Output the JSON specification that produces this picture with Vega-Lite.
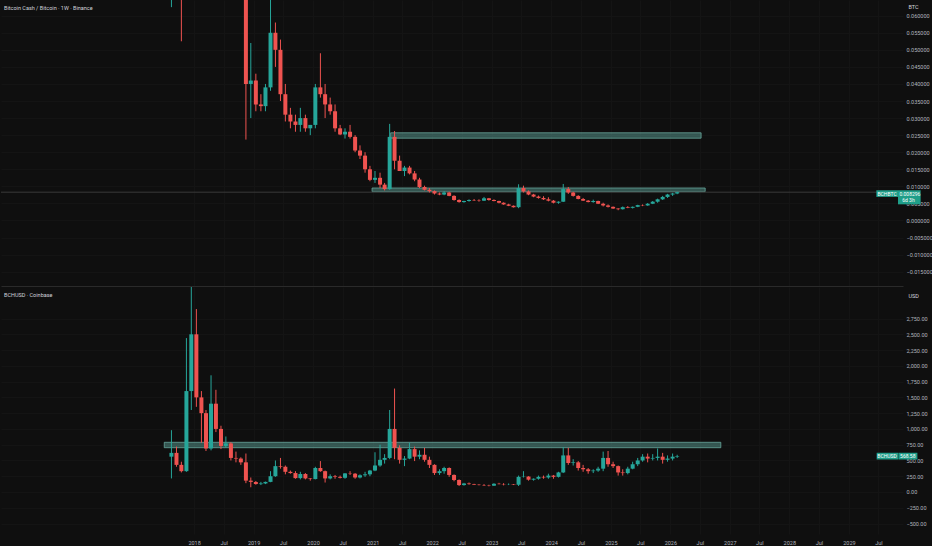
{
"$schema": "https://vega.github.io/schema/vega-lite/v6.json",
"background": "#0f0f0f",
"padding": 0,
"spacing": 1,
"config": {"view": {"stroke": null}, "font": "Roboto",
  "axis": {"labelFont": "Roboto", "titleFont": "Roboto", "labelOverlap": false, "labelFlush": false, "labelBound": false, "ticks": false, "domain": false, "grid": true, "gridColor": "#141414", "labelFontSize": 5.5, "labelColor": "#b2b5be", "titleFontSize": 5.5, "titleFontWeight": "normal", "titleColor": "#d1d4dc"},
  "axisY": {"labelPadding": 3, "labelBaseline": "middle"},
  "axisX": {"labelPadding": 6},
  "title": {"font": "Roboto"}},
"datasets": {
"btc": [
{"d":"2017-08-15","o":0.12,"h":0.22,"l":0.0625,"c":0.13},
{"d":"2017-09-15","o":0.13,"h":0.17,"l":0.09,"c":0.11},
{"d":"2017-10-15","o":0.11,"h":0.12,"l":0.0525,"c":0.09},
{"d":"2017-11-15","o":0.09,"h":0.38,"l":0.07,"c":0.16},
{"d":"2017-12-15","o":0.16,"h":0.26,"l":0.13,"c":0.18},
{"d":"2018-01-15","o":0.18,"h":0.2,"l":0.14,"c":0.15},
{"d":"2018-02-15","o":0.15,"h":0.16,"l":0.11,"c":0.12},
{"d":"2018-03-15","o":0.12,"h":0.13,"l":0.09,"c":0.1},
{"d":"2018-04-15","o":0.1,"h":0.15,"l":0.09,"c":0.14},
{"d":"2018-05-15","o":0.14,"h":0.18,"l":0.13,"c":0.135},
{"d":"2018-06-15","o":0.135,"h":0.14,"l":0.11,"c":0.115},
{"d":"2018-07-15","o":0.115,"h":0.12,"l":0.095,"c":0.1},
{"d":"2018-08-15","o":0.1,"h":0.1,"l":0.075,"c":0.08},
{"d":"2018-09-15","o":0.08,"h":0.09,"l":0.07,"c":0.078},
{"d":"2018-10-15","o":0.078,"h":0.084,"l":0.07,"c":0.08},
{"d":"2018-11-15","o":0.08,"h":0.09,"l":0.0237,"c":0.04},
{"d":"2018-12-15","o":0.04,"h":0.052,"l":0.03,"c":0.041},
{"d":"2019-01-15","o":0.041,"h":0.043,"l":0.032,"c":0.034},
{"d":"2019-02-15","o":0.034,"h":0.037,"l":0.032,"c":0.0335},
{"d":"2019-03-15","o":0.0335,"h":0.04,"l":0.032,"c":0.039},
{"d":"2019-04-15","o":0.039,"h":0.066,"l":0.038,"c":0.055},
{"d":"2019-05-15","o":0.055,"h":0.058,"l":0.045,"c":0.05},
{"d":"2019-06-15","o":0.05,"h":0.053,"l":0.035,"c":0.037},
{"d":"2019-07-15","o":0.037,"h":0.04,"l":0.029,"c":0.031},
{"d":"2019-08-15","o":0.031,"h":0.033,"l":0.027,"c":0.029},
{"d":"2019-09-15","o":0.029,"h":0.031,"l":0.026,"c":0.028},
{"d":"2019-10-15","o":0.028,"h":0.033,"l":0.026,"c":0.03},
{"d":"2019-11-15","o":0.03,"h":0.031,"l":0.026,"c":0.027},
{"d":"2019-12-15","o":0.027,"h":0.028,"l":0.025,"c":0.028},
{"d":"2020-01-15","o":0.028,"h":0.04,"l":0.027,"c":0.039},
{"d":"2020-02-15","o":0.039,"h":0.049,"l":0.036,"c":0.037},
{"d":"2020-03-15","o":0.037,"h":0.04,"l":0.03,"c":0.034},
{"d":"2020-04-15","o":0.034,"h":0.036,"l":0.031,"c":0.032},
{"d":"2020-05-15","o":0.032,"h":0.034,"l":0.026,"c":0.027},
{"d":"2020-06-15","o":0.027,"h":0.028,"l":0.025,"c":0.0252},
{"d":"2020-07-15","o":0.0252,"h":0.027,"l":0.024,"c":0.026},
{"d":"2020-08-15","o":0.026,"h":0.028,"l":0.024,"c":0.0245},
{"d":"2020-09-15","o":0.0245,"h":0.025,"l":0.02,"c":0.0205},
{"d":"2020-10-15","o":0.0205,"h":0.022,"l":0.018,"c":0.019},
{"d":"2020-11-15","o":0.019,"h":0.02,"l":0.014,"c":0.015},
{"d":"2020-12-15","o":0.015,"h":0.016,"l":0.0115,"c":0.0119},
{"d":"2021-01-15","o":0.0119,"h":0.0145,"l":0.011,"c":0.0125},
{"d":"2021-02-15","o":0.0125,"h":0.014,"l":0.0095,"c":0.0105},
{"d":"2021-03-15","o":0.0105,"h":0.011,"l":0.0088,"c":0.0092},
{"d":"2021-04-15","o":0.0092,"h":0.0283,"l":0.009,"c":0.0245},
{"d":"2021-05-15","o":0.0245,"h":0.0262,"l":0.015,"c":0.0175},
{"d":"2021-06-15","o":0.0175,"h":0.019,"l":0.0145,"c":0.0145},
{"d":"2021-07-15","o":0.0145,"h":0.016,"l":0.013,"c":0.0155},
{"d":"2021-08-15","o":0.0155,"h":0.016,"l":0.0135,"c":0.0138},
{"d":"2021-09-15","o":0.0138,"h":0.0145,"l":0.0115,"c":0.012},
{"d":"2021-10-15","o":0.012,"h":0.0125,"l":0.0095,"c":0.0098},
{"d":"2021-11-15","o":0.0098,"h":0.0102,"l":0.0088,"c":0.009},
{"d":"2021-12-15","o":0.009,"h":0.0095,"l":0.0082,"c":0.0086},
{"d":"2022-01-15","o":0.0086,"h":0.0088,"l":0.0076,"c":0.0079},
{"d":"2022-02-15","o":0.0079,"h":0.0082,"l":0.0074,"c":0.0076},
{"d":"2022-03-15","o":0.0076,"h":0.0086,"l":0.0074,"c":0.0082},
{"d":"2022-04-15","o":0.0082,"h":0.0084,"l":0.0071,"c":0.0072},
{"d":"2022-05-15","o":0.0072,"h":0.0074,"l":0.0058,"c":0.006},
{"d":"2022-06-15","o":0.006,"h":0.0062,"l":0.0052,"c":0.0054},
{"d":"2022-07-15","o":0.0054,"h":0.0058,"l":0.0052,"c":0.0057},
{"d":"2022-08-15","o":0.0057,"h":0.0062,"l":0.0055,"c":0.006},
{"d":"2022-09-15","o":0.006,"h":0.0063,"l":0.0057,"c":0.0059},
{"d":"2022-10-15","o":0.0059,"h":0.0062,"l":0.0055,"c":0.0058},
{"d":"2022-11-15","o":0.0058,"h":0.0069,"l":0.0057,"c":0.0065},
{"d":"2022-12-15","o":0.0065,"h":0.0066,"l":0.0058,"c":0.006},
{"d":"2023-01-15","o":0.006,"h":0.0062,"l":0.0056,"c":0.0057},
{"d":"2023-02-15","o":0.0057,"h":0.0058,"l":0.005,"c":0.0052},
{"d":"2023-03-15","o":0.0052,"h":0.0053,"l":0.0046,"c":0.0047},
{"d":"2023-04-15","o":0.0047,"h":0.0049,"l":0.0042,"c":0.0043},
{"d":"2023-05-15","o":0.0043,"h":0.0044,"l":0.0038,"c":0.0039},
{"d":"2023-06-15","o":0.0039,"h":0.0106,"l":0.0036,"c":0.0095},
{"d":"2023-07-15","o":0.0095,"h":0.0102,"l":0.0082,"c":0.0085},
{"d":"2023-08-15","o":0.0085,"h":0.0088,"l":0.0074,"c":0.0076},
{"d":"2023-09-15","o":0.0076,"h":0.0078,"l":0.0068,"c":0.007},
{"d":"2023-10-15","o":0.007,"h":0.0073,"l":0.0064,"c":0.0066},
{"d":"2023-11-15","o":0.0066,"h":0.0071,"l":0.006,"c":0.0062},
{"d":"2023-12-15","o":0.0062,"h":0.0068,"l":0.0056,"c":0.0058},
{"d":"2024-01-15","o":0.0058,"h":0.006,"l":0.005,"c":0.0052},
{"d":"2024-02-15","o":0.0052,"h":0.0056,"l":0.0049,"c":0.0055},
{"d":"2024-03-15","o":0.0055,"h":0.0107,"l":0.0054,"c":0.0092},
{"d":"2024-04-15","o":0.0092,"h":0.0098,"l":0.0078,"c":0.0082},
{"d":"2024-05-15","o":0.0082,"h":0.0084,"l":0.007,"c":0.0072},
{"d":"2024-06-15","o":0.0072,"h":0.0074,"l":0.0062,"c":0.0063},
{"d":"2024-07-15","o":0.0063,"h":0.0066,"l":0.0057,"c":0.0058},
{"d":"2024-08-15","o":0.0058,"h":0.006,"l":0.0053,"c":0.0054},
{"d":"2024-09-15","o":0.0054,"h":0.0061,"l":0.0052,"c":0.0057},
{"d":"2024-10-15","o":0.0057,"h":0.0058,"l":0.0048,"c":0.0049},
{"d":"2024-11-15","o":0.0049,"h":0.0052,"l":0.0041,"c":0.0044},
{"d":"2024-12-15","o":0.0044,"h":0.0047,"l":0.0038,"c":0.004},
{"d":"2025-01-15","o":0.004,"h":0.0041,"l":0.0034,"c":0.0035},
{"d":"2025-02-15","o":0.0035,"h":0.0036,"l":0.003,"c":0.0033},
{"d":"2025-03-15","o":0.0033,"h":0.0041,"l":0.0032,"c":0.0039},
{"d":"2025-04-15","o":0.0039,"h":0.0042,"l":0.0036,"c":0.0037},
{"d":"2025-05-15","o":0.0037,"h":0.0041,"l":0.0035,"c":0.004},
{"d":"2025-06-15","o":0.004,"h":0.0046,"l":0.0039,"c":0.0045},
{"d":"2025-07-15","o":0.0045,"h":0.0047,"l":0.0042,"c":0.0044},
{"d":"2025-08-15","o":0.0044,"h":0.0051,"l":0.0043,"c":0.0049},
{"d":"2025-09-15","o":0.0049,"h":0.0057,"l":0.0048,"c":0.0055},
{"d":"2025-10-15","o":0.0055,"h":0.0064,"l":0.0052,"c":0.0062},
{"d":"2025-11-15","o":0.0062,"h":0.0072,"l":0.006,"c":0.0069},
{"d":"2025-12-15","o":0.0069,"h":0.0078,"l":0.0066,"c":0.0076},
{"d":"2026-01-15","o":0.0076,"h":0.0081,"l":0.0072,"c":0.0079},
{"d":"2026-02-12","o":0.0079,"h":0.0084,"l":0.0077,"c":0.008296}
],
"usd": [
{"d":"2017-08-15","o":560,"h":980,"l":215,"c":620},
{"d":"2017-09-15","o":620,"h":720,"l":400,"c":430},
{"d":"2017-10-15","o":430,"h":480,"l":310,"c":330},
{"d":"2017-11-15","o":330,"h":2440,"l":320,"c":1600},
{"d":"2017-12-15","o":1600,"h":4300,"l":1300,"c":2500},
{"d":"2018-01-15","o":2500,"h":2900,"l":1350,"c":1500},
{"d":"2018-02-15","o":1500,"h":1600,"l":780,"c":1250},
{"d":"2018-03-15","o":1250,"h":1300,"l":650,"c":690},
{"d":"2018-04-15","o":690,"h":1850,"l":660,"c":1400},
{"d":"2018-05-15","o":1400,"h":1620,"l":950,"c":1000},
{"d":"2018-06-15","o":1000,"h":1050,"l":680,"c":730},
{"d":"2018-07-15","o":730,"h":880,"l":700,"c":770},
{"d":"2018-08-15","o":770,"h":790,"l":500,"c":540},
{"d":"2018-09-15","o":540,"h":640,"l":470,"c":530},
{"d":"2018-10-15","o":530,"h":550,"l":430,"c":470},
{"d":"2018-11-15","o":470,"h":610,"l":140,"c":180},
{"d":"2018-12-15","o":180,"h":230,"l":75,"c":160},
{"d":"2019-01-15","o":160,"h":175,"l":115,"c":125},
{"d":"2019-02-15","o":125,"h":160,"l":110,"c":135},
{"d":"2019-03-15","o":135,"h":165,"l":125,"c":160},
{"d":"2019-04-15","o":160,"h":330,"l":155,"c":250},
{"d":"2019-05-15","o":250,"h":500,"l":240,"c":410},
{"d":"2019-06-15","o":410,"h":540,"l":370,"c":400},
{"d":"2019-07-15","o":400,"h":420,"l":280,"c":320},
{"d":"2019-08-15","o":320,"h":340,"l":290,"c":300},
{"d":"2019-09-15","o":300,"h":330,"l":210,"c":220},
{"d":"2019-10-15","o":220,"h":320,"l":200,"c":285},
{"d":"2019-11-15","o":285,"h":300,"l":200,"c":215},
{"d":"2019-12-15","o":215,"h":220,"l":180,"c":205},
{"d":"2020-01-15","o":205,"h":400,"l":200,"c":380},
{"d":"2020-02-15","o":380,"h":490,"l":320,"c":330},
{"d":"2020-03-15","o":330,"h":340,"l":150,"c":215},
{"d":"2020-04-15","o":215,"h":280,"l":200,"c":250},
{"d":"2020-05-15","o":250,"h":270,"l":210,"c":240},
{"d":"2020-06-15","o":240,"h":260,"l":215,"c":225},
{"d":"2020-07-15","o":225,"h":300,"l":210,"c":295},
{"d":"2020-08-15","o":295,"h":330,"l":270,"c":290},
{"d":"2020-09-15","o":290,"h":300,"l":210,"c":230},
{"d":"2020-10-15","o":230,"h":280,"l":215,"c":265},
{"d":"2020-11-15","o":265,"h":320,"l":240,"c":280},
{"d":"2020-12-15","o":280,"h":350,"l":250,"c":340},
{"d":"2021-01-15","o":340,"h":630,"l":330,"c":420},
{"d":"2021-02-15","o":420,"h":750,"l":400,"c":510},
{"d":"2021-03-15","o":510,"h":600,"l":450,"c":540},
{"d":"2021-04-15","o":540,"h":1300,"l":520,"c":1000},
{"d":"2021-05-15","o":1000,"h":1640,"l":520,"c":700},
{"d":"2021-06-15","o":700,"h":740,"l":450,"c":510},
{"d":"2021-07-15","o":510,"h":570,"l":410,"c":530},
{"d":"2021-08-15","o":530,"h":780,"l":520,"c":680},
{"d":"2021-09-15","o":680,"h":720,"l":490,"c":560},
{"d":"2021-10-15","o":560,"h":660,"l":520,"c":590},
{"d":"2021-11-15","o":590,"h":700,"l":480,"c":510},
{"d":"2021-12-15","o":510,"h":560,"l":380,"c":430},
{"d":"2022-01-15","o":430,"h":440,"l":270,"c":300},
{"d":"2022-02-15","o":300,"h":360,"l":270,"c":330},
{"d":"2022-03-15","o":330,"h":400,"l":290,"c":380},
{"d":"2022-04-15","o":380,"h":390,"l":240,"c":270},
{"d":"2022-05-15","o":270,"h":280,"l":170,"c":190},
{"d":"2022-06-15","o":190,"h":200,"l":95,"c":110},
{"d":"2022-07-15","o":110,"h":145,"l":100,"c":135},
{"d":"2022-08-15","o":135,"h":150,"l":115,"c":125},
{"d":"2022-09-15","o":125,"h":130,"l":110,"c":115},
{"d":"2022-10-15","o":115,"h":125,"l":105,"c":110},
{"d":"2022-11-15","o":110,"h":125,"l":95,"c":105},
{"d":"2022-12-15","o":105,"h":115,"l":90,"c":100},
{"d":"2023-01-15","o":100,"h":140,"l":95,"c":130},
{"d":"2023-02-15","o":130,"h":145,"l":120,"c":125},
{"d":"2023-03-15","o":125,"h":140,"l":105,"c":120},
{"d":"2023-04-15","o":120,"h":135,"l":110,"c":122},
{"d":"2023-05-15","o":122,"h":125,"l":110,"c":115},
{"d":"2023-06-15","o":115,"h":260,"l":95,"c":240},
{"d":"2023-07-15","o":240,"h":330,"l":230,"c":245},
{"d":"2023-08-15","o":245,"h":250,"l":180,"c":195},
{"d":"2023-09-15","o":195,"h":215,"l":180,"c":210},
{"d":"2023-10-15","o":210,"h":260,"l":195,"c":240},
{"d":"2023-11-15","o":240,"h":260,"l":210,"c":230},
{"d":"2023-12-15","o":230,"h":290,"l":210,"c":260},
{"d":"2024-01-15","o":260,"h":270,"l":210,"c":240},
{"d":"2024-02-15","o":240,"h":320,"l":230,"c":310},
{"d":"2024-03-15","o":310,"h":710,"l":300,"c":580},
{"d":"2024-04-15","o":580,"h":700,"l":430,"c":460},
{"d":"2024-05-15","o":460,"h":520,"l":420,"c":470},
{"d":"2024-06-15","o":470,"h":490,"l":340,"c":380},
{"d":"2024-07-15","o":380,"h":430,"l":320,"c":360},
{"d":"2024-08-15","o":360,"h":380,"l":290,"c":330},
{"d":"2024-09-15","o":330,"h":360,"l":300,"c":340},
{"d":"2024-10-15","o":340,"h":400,"l":320,"c":370},
{"d":"2024-11-15","o":370,"h":640,"l":330,"c":540},
{"d":"2024-12-15","o":540,"h":650,"l":400,"c":440},
{"d":"2025-01-15","o":440,"h":480,"l":380,"c":410},
{"d":"2025-02-15","o":410,"h":420,"l":260,"c":310},
{"d":"2025-03-15","o":310,"h":360,"l":260,"c":300},
{"d":"2025-04-15","o":300,"h":400,"l":280,"c":370},
{"d":"2025-05-15","o":370,"h":480,"l":360,"c":440},
{"d":"2025-06-15","o":440,"h":540,"l":410,"c":500},
{"d":"2025-07-15","o":500,"h":600,"l":480,"c":560},
{"d":"2025-08-15","o":560,"h":610,"l":470,"c":530},
{"d":"2025-09-15","o":530,"h":600,"l":500,"c":540},
{"d":"2025-10-15","o":540,"h":690,"l":500,"c":560},
{"d":"2025-11-15","o":560,"h":620,"l":450,"c":510},
{"d":"2025-12-15","o":510,"h":580,"l":480,"c":530},
{"d":"2026-01-15","o":530,"h":610,"l":500,"c":560},
{"d":"2026-02-12","o":560,"h":590,"l":540,"c":568.58}
],
"zbtc": [
{"a":"2021-04-21","b":"2026-07-09","lo":0.02411,"hi":0.02569},
{"a":"2020-12-28","b":"2026-08-03","lo":0.00844,"hi":0.00952}
],
"zusd": [
{"a":"2017-07-02","b":"2026-11-07","lo":702,"hi":788}
],
"tagbtc": [
{"a":"2029-06-18","b":"2029-10-29","lo":0.006908,"hi":0.008848},
{"a":"2029-10-29","b":"2030-03-17","lo":0.004732,"hi":0.008848}
],
"txtbtc": [
{"d":"2029-08-23","v":0.00785,"t":"BCHBTC"},
{"d":"2030-01-10","v":0.00785,"t":"0.008296"},
{"d":"2030-01-01","v":0.00609,"t":"6d 3h"}
],
"tagusd": [
{"a":"2029-06-20","b":"2029-10-29","lo":515,"hi":622},
{"a":"2029-10-31","b":"2030-02-25","lo":515,"hi":622}
],
"txtusd": [
{"d":"2029-08-23","v":568.58,"t":"BCHUSD"},
{"d":"2029-12-28","v":568.58,"t":"568.58"}
]
},
"vconcat": [
{
"width": 902, "height": 286,
"title": {"text": "Bitcoin Cash / Bitcoin · 1W · Binance", "anchor": "start", "frame": "group", "offset": -11, "dx": 3, "fontSize": 5.5, "fontWeight": "normal", "color": "#d1d4dc"},
"layer": [
{"data": {"name": "zbtc"}, "mark": {"type": "rect", "color": "#5a9e94", "fillOpacity": 0.5, "stroke": "#6fb3a8", "strokeOpacity": 0.7, "strokeWidth": 1, "clip": true},
 "encoding": {
  "x": {"field": "a", "type": "temporal",
    "scale": {"type": "utc", "domain": [{"year": 2014, "month": 11, "date": 4, "utc": true}, {"year": 2029, "month": 10, "date": 29, "utc": true}]},
    "axis": {"title": null, "labels": false, "domain": true, "domainColor": "#2a2a2a", "tickCount": 1000,
      "values": [{"year":2018,"month":1,"date":1,"utc":true},{"year":2018,"month":7,"date":1,"utc":true},{"year":2019,"month":1,"date":1,"utc":true},{"year":2019,"month":7,"date":1,"utc":true},{"year":2020,"month":1,"date":1,"utc":true},{"year":2020,"month":7,"date":1,"utc":true},{"year":2021,"month":1,"date":1,"utc":true},{"year":2021,"month":7,"date":1,"utc":true},{"year":2022,"month":1,"date":1,"utc":true},{"year":2022,"month":7,"date":1,"utc":true},{"year":2023,"month":1,"date":1,"utc":true},{"year":2023,"month":7,"date":1,"utc":true},{"year":2024,"month":1,"date":1,"utc":true},{"year":2024,"month":7,"date":1,"utc":true},{"year":2025,"month":1,"date":1,"utc":true},{"year":2025,"month":7,"date":1,"utc":true},{"year":2026,"month":1,"date":1,"utc":true},{"year":2026,"month":7,"date":1,"utc":true},{"year":2027,"month":1,"date":1,"utc":true},{"year":2027,"month":7,"date":1,"utc":true},{"year":2028,"month":1,"date":1,"utc":true},{"year":2028,"month":7,"date":1,"utc":true},{"year":2029,"month":1,"date":1,"utc":true},{"year":2029,"month":7,"date":1,"utc":true}]}},
  "x2": {"field": "b"},
  "y": {"field": "lo", "type": "quantitative",
     "scale": {"domain": [-0.0192, 0.0646], "nice": false, "zero": false},
     "axis": {"orient": "right", "tickCount": 1000, "values": [-0.015,-0.01,-0.005,0,0.005,0.01,0.015,0.02,0.025,0.03,0.035,0.04,0.045,0.05,0.055,0.06], "format": ".6f",
       "title": "BTC", "titleAngle": 0, "titleX": 5, "titleY": 4, "titleAlign": "left", "titleBaseline": "top"}},
  "y2": {"field": "hi"}}},
{"data": {"values": [{"v": 0.008296}]}, "mark": {"type": "rule", "color": "#3a3a3a", "strokeWidth": 1}, "encoding": {"y": {"field": "v", "type": "quantitative"}}},
{"data": {"name": "btc"},
 "encoding": {
  "x": {"field": "d", "type": "temporal"},
  "color": {"condition": {"test": "datum.c >= datum.o", "value": "#26a69a"}, "value": "#ef5350"}
 },
 "layer": [
  {"mark": {"type": "rule", "clip": true, "strokeWidth": 1},
   "encoding": {"y": {"field": "l", "type": "quantitative"}, "y2": {"field": "h"}}},
  {"mark": {"type": "bar", "clip": true, "width": 4},
   "encoding": {"y": {"field": "o", "type": "quantitative"}, "y2": {"field": "c"}}}
 ]},
{"data": {"name": "tagbtc"}, "mark": {"type": "rect", "color": "#1f9e89"},
 "encoding": {"x": {"field": "a", "type": "temporal"}, "x2": {"field": "b"}, "y": {"field": "lo", "type": "quantitative"}, "y2": {"field": "hi"}}},
{"data": {"name": "txtbtc"}, "mark": {"type": "text", "color": "#ffffff", "fontSize": 5, "align": "center", "baseline": "middle"},
 "encoding": {"x": {"field": "d", "type": "temporal"}, "y": {"field": "v", "type": "quantitative"}, "text": {"field": "t"}}}
]
},
{
"width": 902, "height": 247,
"title": {"text": "BCHUSD · Coinbase", "anchor": "start", "frame": "group", "offset": -11, "dx": 3, "fontSize": 5.5, "fontWeight": "normal", "color": "#d1d4dc"},
"layer": [
{"data": {"name": "zusd"}, "mark": {"type": "rect", "color": "#5a9e94", "fillOpacity": 0.5, "stroke": "#6fb3a8", "strokeOpacity": 0.7, "strokeWidth": 1, "clip": true},
 "encoding": {
  "x": {"field": "a", "type": "temporal",
    "scale": {"type": "utc", "domain": [{"year": 2014, "month": 11, "date": 4, "utc": true}, {"year": 2029, "month": 10, "date": 29, "utc": true}]},
    "axis": {"title": null, "tickCount": 1000,
      "labelExpr": "utcmonth(datum.value) == 0 ? '' + utcyear(datum.value) : 'Jul'",
      "values": [{"year":2018,"month":1,"date":1,"utc":true},{"year":2018,"month":7,"date":1,"utc":true},{"year":2019,"month":1,"date":1,"utc":true},{"year":2019,"month":7,"date":1,"utc":true},{"year":2020,"month":1,"date":1,"utc":true},{"year":2020,"month":7,"date":1,"utc":true},{"year":2021,"month":1,"date":1,"utc":true},{"year":2021,"month":7,"date":1,"utc":true},{"year":2022,"month":1,"date":1,"utc":true},{"year":2022,"month":7,"date":1,"utc":true},{"year":2023,"month":1,"date":1,"utc":true},{"year":2023,"month":7,"date":1,"utc":true},{"year":2024,"month":1,"date":1,"utc":true},{"year":2024,"month":7,"date":1,"utc":true},{"year":2025,"month":1,"date":1,"utc":true},{"year":2025,"month":7,"date":1,"utc":true},{"year":2026,"month":1,"date":1,"utc":true},{"year":2026,"month":7,"date":1,"utc":true},{"year":2027,"month":1,"date":1,"utc":true},{"year":2027,"month":7,"date":1,"utc":true},{"year":2028,"month":1,"date":1,"utc":true},{"year":2028,"month":7,"date":1,"utc":true},{"year":2029,"month":1,"date":1,"utc":true},{"year":2029,"month":7,"date":1,"utc":true}]}},
  "x2": {"field": "b"},
  "y": {"field": "lo", "type": "quantitative",
     "scale": {"domain": [-666, 3250], "nice": false, "zero": false},
     "axis": {"orient": "right", "tickCount": 1000, "values": [-500,-250,0,250,500,750,1000,1250,1500,1750,2000,2250,2500,2750], "format": ",.2f",
       "title": "USD", "titleAngle": 0, "titleX": 5, "titleY": 6, "titleAlign": "left", "titleBaseline": "top"}},
  "y2": {"field": "hi"}}},
{"data": {"name": "usd"},
 "encoding": {
  "x": {"field": "d", "type": "temporal"},
  "color": {"condition": {"test": "datum.c >= datum.o", "value": "#26a69a"}, "value": "#ef5350"}
 },
 "layer": [
  {"mark": {"type": "rule", "clip": true, "strokeWidth": 1},
   "encoding": {"y": {"field": "l", "type": "quantitative"}, "y2": {"field": "h"}}},
  {"mark": {"type": "bar", "clip": true, "width": 4},
   "encoding": {"y": {"field": "o", "type": "quantitative"}, "y2": {"field": "c"}}}
 ]},
{"data": {"name": "tagusd"}, "mark": {"type": "rect", "color": "#1f9e89"},
 "encoding": {"x": {"field": "a", "type": "temporal"}, "x2": {"field": "b"}, "y": {"field": "lo", "type": "quantitative"}, "y2": {"field": "hi"}}},
{"data": {"name": "txtusd"}, "mark": {"type": "text", "color": "#ffffff", "fontSize": 5, "align": "center", "baseline": "middle"},
 "encoding": {"x": {"field": "d", "type": "temporal"}, "y": {"field": "v", "type": "quantitative"}, "text": {"field": "t"}}}
]
}
]
}
